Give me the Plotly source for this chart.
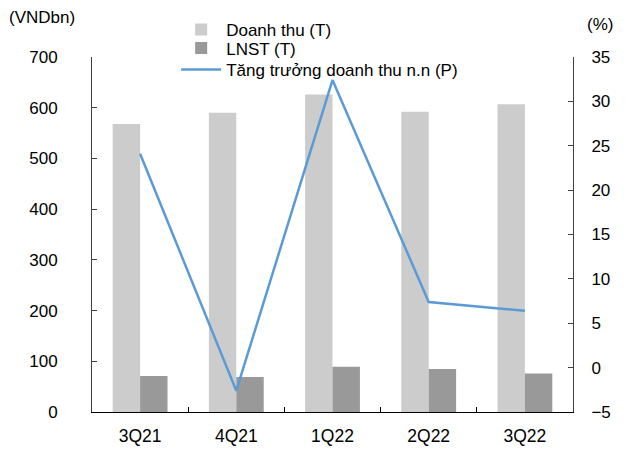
import plotly.graph_objects as go

quarters = ["3Q21", "4Q21", "1Q22", "2Q22", "3Q22"]
revenue = [568, 590, 626, 592, 607]          # Doanh thu, VND bn
net_profit = [71, 69, 89, 85, 76]            # LNST, VND bn
revenue_growth = [24.1, -2.6, 32.4, 7.4, 6.4]  # % yoy

FONT = "Liberation Sans, Arial, sans-serif"
AXIS_COLOR = "#404040"

# plot area in pixels (used to place legend rows and unit labels)
PLOT_L, PLOT_R, PLOT_T, PLOT_B = 92, 573, 57, 412
W, H = PLOT_R - PLOT_L, PLOT_B - PLOT_T


def px_x(x):
    return (x - PLOT_L) / W


def px_y(y):
    return (PLOT_B - y) / H


fig = go.Figure()
fig.add_trace(go.Bar(x=quarters, y=revenue, name="Doanh thu (T)", legend="legend",
                     marker=dict(color="#CCCCCC", line=dict(width=0))))
fig.add_trace(go.Bar(x=quarters, y=net_profit, name="LNST (T)", legend="legend2",
                     marker=dict(color="#999999", line=dict(width=0))))
fig.add_trace(go.Scatter(x=quarters, y=revenue_growth, name="Tăng trưởng doanh thu n.n (P)",
                         mode="lines", yaxis="y2", legend="legend3",
                         line=dict(color="#5B9BD5", width=2.5)))

legend_style = dict(xanchor="left", yanchor="middle", bgcolor="rgba(0,0,0,0)",
                    font=dict(size=17), itemwidth=40)

fig.update_layout(
    width=640, height=450,
    margin=dict(l=PLOT_L, r=640 - PLOT_R, t=PLOT_T, b=450 - PLOT_B, autoexpand=False),
    paper_bgcolor="white", plot_bgcolor="white",
    font=dict(family=FONT, size=17, color="#000000"),
    barmode="group", bargap=0.43, bargroupgap=0,
    showlegend=True,
    legend=dict(x=0.175, y=px_y(30), **legend_style),
    legend2=dict(x=0.175, y=px_y(48.5), **legend_style),
    legend3=dict(x=0.175, y=px_y(70), **legend_style),
    xaxis=dict(showline=True, linecolor="#000000", linewidth=1,
               ticks="inside", tickson="boundaries", ticklen=5,
               tickcolor="#000000", showgrid=False, zeroline=False,
               ticklabelstandoff=8, tickfont=dict(size=17.5), automargin=False),
    yaxis=dict(range=[0, 700], dtick=100, showline=True, linecolor=AXIS_COLOR,
               linewidth=1, ticks="inside", ticklen=5, tickcolor=AXIS_COLOR,
               showgrid=False, zeroline=False, ticklabelstandoff=30,
               automargin=False),
    yaxis2=dict(range=[-5, 35], dtick=5, overlaying="y", side="right",
                showline=True, linecolor=AXIS_COLOR, linewidth=1,
                ticks="inside", ticklen=5, tickcolor=AXIS_COLOR,
                showgrid=False, zeroline=False, ticklabelstandoff=14,
                automargin=False),
    annotations=[
        dict(text="(VNDbn)", xref="paper", yref="paper",
             x=px_x(42), y=px_y(18), xanchor="center", yanchor="middle",
             showarrow=False, font=dict(size=17)),
        dict(text="(%)", xref="paper", yref="paper",
             x=px_x(600), y=px_y(25), xanchor="center", yanchor="middle",
             showarrow=False, font=dict(size=17)),
    ],
)

fig.write_html("out.html")
